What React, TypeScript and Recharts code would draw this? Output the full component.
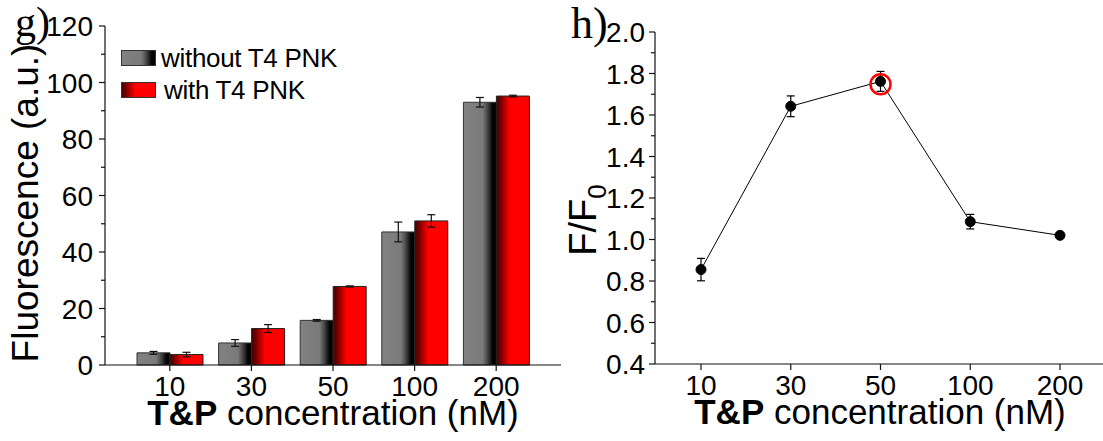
import React from 'react';
import { BarChart, Bar, LineChart, Line, XAxis, YAxis, ErrorBar, Legend, ReferenceDot } from 'recharts';

// T&P concentration (nM) categories
const concentrations = ['10', '30', '50', '100', '200'];

// panel g — fluorescence (a.u.)
const withoutPnk = [4.3, 7.8, 15.8, 47.1, 93.0];
const withoutPnkErr = [0.5, 1.2, 0.3, 3.5, 1.7];
const withPnk = [3.7, 12.9, 27.8, 51.0, 95.2];
const withPnkErr = [0.8, 1.4, 0.2, 2.2, 0.3];
const fluorTicks = [0, 10, 20, 30, 40, 50, 60, 70, 80, 90, 100, 110, 120];

// panel h — F/F0
const ratio = [0.855, 1.642, 1.762, 1.086, 1.02];
const ratioErr = [0.054, 0.05, 0.048, 0.035, 0.01];
const ratioTicks = [0.4, 0.5, 0.6, 0.7, 0.8, 0.9, 1.0, 1.1, 1.2, 1.3, 1.4, 1.5, 1.6, 1.7, 1.8, 1.9, 2.0];
const highlightConc = '50';
const highlightValue = 1.748;

const barData = concentrations.map((c, i) => ({
  conc: c,
  without: withoutPnk[i],
  withoutErr: withoutPnkErr[i],
  with: withPnk[i],
  withErr: withPnkErr[i],
}));

const lineData = concentrations.map((c, i) => ({ conc: c, ratio: ratio[i], err: ratioErr[i] }));

const SANS = '"Liberation Sans", Arial, sans-serif';
const SERIF = '"Liberation Serif", "Times New Roman", serif';
const AXIS = { stroke: '#111', strokeWidth: 1.2 };
const TICK_FONT = 28;

// y ticks: draws its own tick mark (long for major, short for minor) and a label on majors only
const makeYTick = (isMajor: (v: number) => boolean, fmt: (v: number) => string, size: number, margin: number) =>
  (props: any) => {
    const { x, y, payload } = props;
    const v = payload.value as number;
    const major = isMajor(v);
    const axisX = x + size + margin;
    return (
      <g>
        <line x1={axisX - (major ? 6 : 4)} x2={axisX} y1={y} y2={y} stroke="#111" strokeWidth={1.2} />
        {major && (
          <text x={x} y={y} dy="0.36em" textAnchor="end" fontFamily={SANS} fontSize={TICK_FONT} fill="#000">
            {fmt(v)}
          </text>
        )}
      </g>
    );
  };

const fluorTick = makeYTick((v) => v % 20 === 0, (v) => String(v), 6, 6);
const ratioTick = makeYTick((v) => Math.round(v * 10) % 2 === 0, (v) => v.toFixed(1), 6, 4);

const xTitle = (props: any) => {
  const { viewBox } = props;
  return (
    <text x={viewBox.x + viewBox.width / 2} y={viewBox.y + 60} textAnchor="middle" fontFamily={SANS} fontSize={35} fill="#000">
      <tspan fontWeight={700}>T&amp;P</tspan>
      {' concentration (nM)'}
    </text>
  );
};

const fluorTitle = () => (
  <text x={38} y={203} transform="rotate(-90 38 203)" textAnchor="middle" fontFamily={SANS} fontSize={37} fill="#000">
    Fluorescence (a.u.)
  </text>
);

const ratioTitle = () => (
  <text x={36} y={220} transform="rotate(-90 36 220)" textAnchor="middle" fontFamily={SANS} fontSize={38} fill="#000">
    F/F<tspan fontSize={26} dy={10}>0</tspan>
  </text>
);

const Swatch = ({ id, stops }: { id: string; stops: [string, string][] }) => (
  <svg width={35} height={16} style={{ display: 'block' }}>
    <defs>
      <linearGradient id={id} x1="0" y1="0" x2="1" y2="0">
        {stops.map(([o, c]) => (
          <stop key={o} offset={o} stopColor={c} />
        ))}
      </linearGradient>
    </defs>
    <rect x={0.5} y={0.5} width={34} height={15} fill={`url(#${id})`} stroke="#333" strokeWidth={1} />
  </svg>
);

const grayStops: [string, string][] = [['0%', '#828282'], ['58%', '#7a7a7a'], ['72%', '#4a4a4a'], ['88%', '#050505'], ['100%', '#000']];
const redStops: [string, string][] = [['0%', '#4a0000'], ['12%', '#700000'], ['40%', '#ff0000'], ['100%', '#ff0000']];

const renderLegend = () => (
  <div style={{ fontFamily: SANS, fontSize: 26, color: '#000' }}>
    <div style={{ display: 'flex', alignItems: 'center', height: 32 }}>
      <Swatch id="lgGray" stops={grayStops} />
      <span style={{ marginLeft: 5, letterSpacing: -0.3 }}>without T4 PNK</span>
    </div>
    <div style={{ display: 'flex', alignItems: 'center', height: 32 }}>
      <Swatch id="lgRed" stops={redStops} />
      <span style={{ marginLeft: 8, letterSpacing: -0.3 }}>with T4 PNK</span>
    </div>
  </div>
);

export default function App() {
  return (
    <div style={{ position: 'absolute', left: 0, top: 0, width: 1103, height: 441, overflow: 'hidden', background: '#fff' }}>
      <div style={{ position: 'absolute', left: 0, top: 0 }}>
        <BarChart width={563} height={441} data={barData} margin={{ top: 26, right: 2, left: 0, bottom: 0 }} barCategoryGap={8} barGap={0}>
          <defs>
            <linearGradient id="barGray" x1="0" y1="0" x2="1" y2="0">
              {grayStops.map(([o, c]) => <stop key={o} offset={o} stopColor={c} />)}
            </linearGradient>
            <linearGradient id="barRed" x1="0" y1="0" x2="1" y2="0">
              {redStops.map(([o, c]) => <stop key={o} offset={o} stopColor={c} />)}
            </linearGradient>
          </defs>
          <XAxis
            dataKey="conc"
            height={76}
            padding={{ left: 24, right: 24 }}
            axisLine={AXIS}
            tickLine={AXIS}
            tickSize={6}
            tickMargin={5}
            interval={0}
            tick={{ fontFamily: SANS, fontSize: TICK_FONT, fill: '#000' }}
            label={{ content: xTitle }}
          />
          <XAxis xAxisId="top" dataKey="conc" orientation="top" height={0} tick={false} tickLine={false} axisLine={AXIS} />
          <YAxis
            width={105}
            domain={[0, 120]}
            ticks={fluorTicks}
            interval={0}
            axisLine={AXIS}
            tickLine={false}
            tickSize={6}
            tickMargin={6}
            tick={fluorTick}
            label={{ content: fluorTitle }}
          />
          <YAxis yAxisId="right" orientation="right" width={0} domain={[0, 120]} tick={false} tickLine={false} axisLine={AXIS} />
          <Legend layout="vertical" align="center" verticalAlign="middle" content={renderLegend} wrapperStyle={{ left: 121, top: 42, width: 260 }} />
          <Bar dataKey="without" name="without T4 PNK" fill="url(#barGray)" stroke="#333" strokeWidth={1} isAnimationActive={false}>
            <ErrorBar dataKey="withoutErr" direction="y" width={4} stroke="#111" strokeWidth={1.2} />
          </Bar>
          <Bar dataKey="with" name="with T4 PNK" fill="url(#barRed)" stroke="#222" strokeWidth={1} isAnimationActive={false}>
            <ErrorBar dataKey="withErr" direction="y" width={4} stroke="#111" strokeWidth={1.2} />
          </Bar>
        </BarChart>
      </div>

      <div style={{ position: 'absolute', left: 560, top: 0 }}>
        <LineChart width={545} height={441} data={lineData} margin={{ top: 32, right: 0, left: 0, bottom: 0 }}>
          <XAxis
            dataKey="conc"
            height={77}
            padding={{ left: 46, right: 45 }}
            axisLine={AXIS}
            tickLine={AXIS}
            tickSize={6}
            tickMargin={5}
            interval={0}
            tick={{ fontFamily: SANS, fontSize: TICK_FONT, fill: '#000' }}
            label={{ content: xTitle }}
          />
          <XAxis xAxisId="top" dataKey="conc" orientation="top" height={0} tick={false} tickLine={false} axisLine={AXIS} />
          <YAxis
            width={95}
            domain={[0.4, 2.0]}
            ticks={ratioTicks}
            interval={0}
            axisLine={AXIS}
            tickLine={false}
            tickSize={6}
            tickMargin={4}
            tick={ratioTick}
            label={{ content: ratioTitle }}
          />
          <Line
            dataKey="ratio"
            stroke="#000"
            strokeWidth={1}
            dot={{ r: 5, fill: '#000', stroke: '#000', strokeWidth: 1 }}
            isAnimationActive={false}
          >
            <ErrorBar dataKey="err" direction="y" width={4} stroke="#000" strokeWidth={1.2} />
          </Line>
          <ReferenceDot x={highlightConc} y={highlightValue} r={10} fill="none" stroke="#ff0000" strokeWidth={2.5} />
        </LineChart>
      </div>

      <svg width={1103} height={441} style={{ position: 'absolute', left: 0, top: 0, pointerEvents: 'none' }}>
        <text x={15} y={36} fontFamily={SERIF} fontSize={42} fill="#000">g)</text>
        <text x={571} y={38} fontFamily={SERIF} fontSize={44} fill="#000">h)</text>
      </svg>
    </div>
  );
}
